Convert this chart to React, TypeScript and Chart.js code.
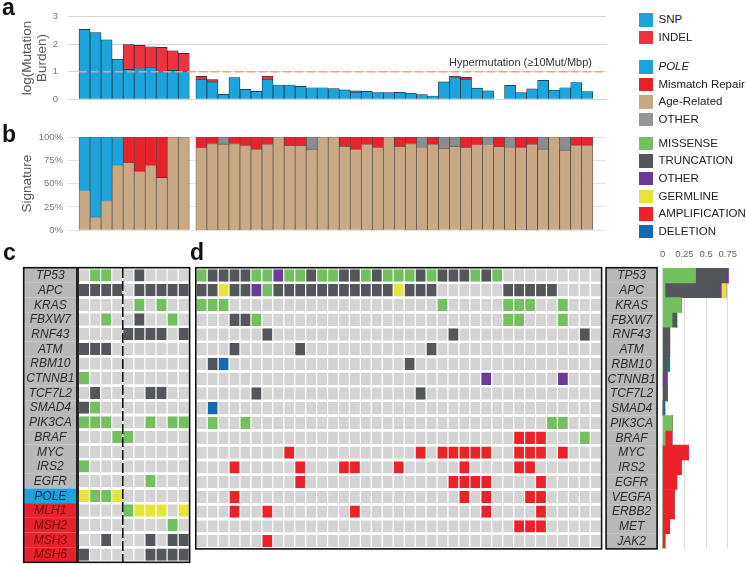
import React, { useEffect, useRef } from 'react';
import { Chart, registerables } from 'chart.js';
Chart.register(...registerables);

const FONT = '"Liberation Sans", Arial, Helvetica, sans-serif';
Chart.defaults.font.family = FONT;

// ---------------- data ----------------
const burdenG1Snp = [2.54, 2.42, 2.16, 1.46, 1.09, 1.12, 1.15, 1.0, 1.05, 1.02];
const burdenG1Indel = [0, 0, 0, 0, 0.9, 0.84, 0.76, 0.89, 0.71, 0.65];
const burdenG2Snp = [0.73, 0.63, 0.18, 0.79, 0.36, 0.29, 0.73, 0.52, 0.52, 0.47, 0.42, 0.42, 0.39, 0.34, 0.26, 0.29, 0.24, 0.24, 0.25, 0.22, 0.17, 0.12, 0.63, 0.78, 0.73, 0.41, 0.31, 0, 0.51, 0.24, 0.38, 0.69, 0.33, 0.42, 0.61, 0.28];
const burdenG2Indel = [0.1, 0.09, 0, 0, 0, 0, 0.11, 0, 0, 0, 0, 0, 0, 0, 0.05, 0, 0, 0, 0, 0, 0, 0, 0, 0.06, 0.07, 0, 0, 0, 0, 0, 0, 0, 0, 0, 0, 0];
const burdenTicks = [0, 1, 2, 3];
const hyperThreshold = 1;
const hyperLabel = 'Hypermutation (≥10Mut/Mbp)';

const sigG1Age = [42.4, 14.3, 31.6, 70, 72.5, 63.5, 69.5, 56.5, 100, 100];
const sigG1Pole = [57.6, 85.7, 68.4, 30, 0, 0, 0, 0, 0, 0];
const sigG1Mmr = [0, 0, 0, 0, 27.5, 36.5, 30.5, 43.5, 0, 0];
const sigG1Other = [0, 0, 0, 0, 0, 0, 0, 0, 0, 0];
const sigG2Age = [89, 92.7, 92.4, 92.7, 90.6, 87, 92, 100, 91, 91, 87, 100, 100, 90, 87, 92, 88.5, 100, 90, 92.7, 88.5, 92, 87.5, 90, 89, 91.7, 91.7, 89.6, 88.5, 88.5, 92.4, 87, 100, 86, 91.3, 91.3];
const sigG2Pole = [0, 0, 0, 0, 0, 0, 0, 0, 0, 0, 0, 0, 0, 0, 0, 0, 0, 0, 0, 0, 0, 0, 0, 0, 0, 0, 0, 0, 0, 0, 0, 0, 0, 0, 0, 0];
const sigG2Mmr = [11, 7.3, 0, 7.3, 9.4, 13, 8, 0, 9, 9, 0, 0, 0, 10, 13, 8, 11.5, 0, 10, 7.3, 0, 8, 0, 0, 11, 8.3, 0, 10.4, 0, 11.5, 7.6, 0, 0, 0, 8.7, 8.7];
const sigG2Other = [0, 0, 7.6, 0, 0, 0, 0, 0, 0, 0, 13, 0, 0, 0, 0, 0, 0, 0, 0, 0, 11.5, 0, 12.5, 10, 0, 0, 8.3, 0, 11.5, 0, 0, 13, 0, 14, 0, 0];
const sigTicks = [0, 25, 50, 75, 100];

const cGenes = ['TP53', 'APC', 'KRAS', 'FBXW7', 'RNF43', 'ATM', 'RBM10', 'CTNNB1', 'TCF7L2', 'SMAD4', 'PIK3CA', 'BRAF', 'MYC', 'IRS2', 'EGFR', 'POLE', 'MLH1', 'MSH2', 'MSH3', 'MSH6'];
const cPoleGenes = ['POLE'];
const cMmrGenes = ['MLH1', 'MSH2', 'MSH3', 'MSH6'];
const cRows = [
  '.MM..T....',
  'TTTT.TTTTT',
  '.....M.M..',
  '..M..T..M.',
  '....TTTT.T',
  'TTT.......',
  '..........',
  'M.........',
  '.T....TT..',
  'TM........',
  'MMM...M.MM',
  '...MM.....',
  '..........',
  'M.........',
  '......M...',
  'GMMG......',
  '....MGGG.G',
  '........M.',
  '..T...T.TT',
  'T.....TTTT',
];
const cDividerAfter = 4;

const dGenes = ['TP53', 'APC', 'KRAS', 'FBXW7', 'RNF43', 'ATM', 'RBM10', 'CTNNB1', 'TCF7L2', 'SMAD4', 'PIK3CA', 'BRAF', 'MYC', 'IRS2', 'EGFR', 'VEGFA', 'ERBB2', 'MET', 'JAK2'];
const dRows = [
  'MTTTTMMOMMTMMTTMTMMMTMTTTMTM.........',
  'TTGTTOMTTTTTTTTTTTGTTT......TTTTT....',
  'MMM...................M.....MMM..M...',
  '...TTM......................MM...M...',
  '......T................T...........T.',
  '...T.....T...........T...............',
  '.TD................T.................',
  '..........................O......O...',
  '.....T..............T................',
  '.D...................................',
  '.M..M...........................MM...',
  '.............................AAA...M.',
  '........A...........A.AAAAA..AAA.A...',
  '...A.....A...AA...A.....A....AA......',
  '.........A.............AAAA....A.....',
  '...A....................A.A...AA.....',
  '...A..A.......A...........A....A.....',
  '.............................AAA.....',
  '......A..............................',
];
const freqTicks = [0, 0.25, 0.5, 0.75];

// ---------------- styles ----------------
const C_SNP = '#1ca4dc';
const C_INDEL = '#ec3340';
const C_POLE = '#1ca4dc';
const C_MMR = '#e8222b';
const C_AGE = '#c9a985';
const C_SIG_OTHER = '#8c8c8c';
const CELL: Record<string, string> = {
  '.': '#d4d4d4',
  M: '#74bf5f',
  T: '#53565a',
  O: '#6a3c97',
  G: '#e4e43c',
  A: '#ec2229',
  D: '#1668b2',
};
const MUT_TYPES = [
  { code: 'M', label: 'MISSENSE' },
  { code: 'T', label: 'TRUNCATION' },
  { code: 'O', label: 'OTHER' },
  { code: 'G', label: 'GERMLINE' },
  { code: 'A', label: 'AMPLIFICATION' },
  { code: 'D', label: 'DELETION' },
];
const LABEL_BOX = '#b8b8b8';
const GROUP2_START = 10.6;

const legendGroups = [
  { top: 13.3, items: [{ label: 'SNP', color: C_SNP }, { label: 'INDEL', color: C_INDEL }] },
  {
    top: 60,
    items: [
      { label: 'POLE', color: C_POLE, italic: true },
      { label: 'Mismatch Repair', color: C_MMR },
      { label: 'Age-Related', color: C_AGE },
      { label: 'OTHER', color: '#959595' },
    ],
  },
  { top: 136.7, items: MUT_TYPES.map((m) => ({ label: m.label, color: CELL[m.code] })) },
];

// ---------------- helpers ----------------
function samplePoints(g1: number[], g2: number[]) {
  return [
    ...g1.map((v, i) => ({ x: i, y: v })),
    ...g2.map((v, i) => ({ x: GROUP2_START + i, y: v })),
  ];
}

function xSampleAxis(): any {
  return {
    type: 'linear',
    min: -1.5,
    max: 47.3,
    offset: false,
    display: false,
    grid: { offset: false },
    ticks: { stepSize: 10 },
  };
}

const baseOptions = {
  animation: false,
  responsive: true,
  maintainAspectRatio: false,
  events: [],
  plugins: { legend: { display: false }, tooltip: { enabled: false } },
};

const hyperPlugin = {
  id: 'hyper',
  afterDatasetsDraw(chart: any) {
    const { ctx, chartArea, scales } = chart;
    const yy = scales.y.getPixelForValue(hyperThreshold);
    ctx.save();
    ctx.strokeStyle = 'rgba(243,158,108,0.95)';
    ctx.lineWidth = 1.5;
    ctx.setLineDash([8, 4]);
    ctx.beginPath();
    ctx.moveTo(scales.x.getPixelForValue(-0.5), yy);
    ctx.lineTo(chartArea.right, yy);
    ctx.stroke();
    ctx.setLineDash([]);
    ctx.fillStyle = '#333';
    ctx.font = `11px ${FONT}`;
    ctx.textAlign = 'right';
    ctx.textBaseline = 'alphabetic';
    ctx.fillText(hyperLabel, chartArea.right - 14, yy - 6);
    ctx.restore();
  },
};

function burdenConfig(): any {
  const bar = { borderColor: '#1b2830', borderWidth: 0.7, barPercentage: 1, categoryPercentage: 1, grouped: false };
  return {
    type: 'bar',
    data: {
      datasets: [
        { label: 'SNP', data: samplePoints(burdenG1Snp, burdenG2Snp), backgroundColor: C_SNP, ...bar },
        { label: 'INDEL', data: samplePoints(burdenG1Indel, burdenG2Indel), backgroundColor: C_INDEL, ...bar },
      ],
    },
    options: {
      ...baseOptions,
      layout: { padding: { left: 0, right: 14, top: 16.7, bottom: 7.7 } },
      scales: {
        x: xSampleAxis(),
        y: {
          min: 0,
          max: 3,
          stacked: true,
          afterBuildTicks: (s: any) => {
            s.ticks = burdenTicks.map((v) => ({ value: v }));
          },
          afterFit: (s: any) => {
            s.width = 68;
          },
          ticks: { color: '#777', font: { size: 9.5 }, padding: 10 },
          grid: { color: '#d6d6d6', drawTicks: false },
          border: { display: false },
          title: {
            display: true,
            text: ['log(Mutation', 'Burden)'],
            color: '#555',
            font: { size: 13.5, lineHeight: 1.1 },
            padding: { top: 20, bottom: 0 },
          },
        },
      },
    },
    plugins: [hyperPlugin],
  };
}

function signatureConfig(): any {
  const bar = { borderColor: 'rgba(45,40,35,0.8)', borderWidth: 0.7, barPercentage: 1, categoryPercentage: 1, grouped: false };
  return {
    type: 'bar',
    data: {
      datasets: [
        { label: 'Age-Related', data: samplePoints(sigG1Age, sigG2Age), backgroundColor: C_AGE, ...bar },
        { label: 'POLE', data: samplePoints(sigG1Pole, sigG2Pole), backgroundColor: C_POLE, ...bar },
        { label: 'Mismatch Repair', data: samplePoints(sigG1Mmr, sigG2Mmr), backgroundColor: C_MMR, ...bar },
        { label: 'OTHER', data: samplePoints(sigG1Other, sigG2Other), backgroundColor: C_SIG_OTHER, ...bar },
      ],
    },
    options: {
      ...baseOptions,
      layout: { padding: { left: 0, right: 14, top: 17, bottom: 8 } },
      scales: {
        x: xSampleAxis(),
        y: {
          min: 0,
          max: 100,
          stacked: true,
          afterBuildTicks: (s: any) => {
            s.ticks = sigTicks.map((v) => ({ value: v }));
          },
          afterFit: (s: any) => {
            s.width = 68;
          },
          ticks: { color: '#777', font: { size: 9.5 }, padding: 5, callback: (v: any) => `${v}%` },
          grid: { color: '#e3e3e3', drawTicks: false },
          border: { display: false },
          title: {
            display: true,
            text: 'Signature',
            color: '#555',
            font: { size: 13.5, lineHeight: 1.1 },
            padding: { top: 20, bottom: 0 },
          },
        },
      },
    },
  };
}

function gridConfig(genes: string[], rows: string[], padding: any, plugin: any): any {
  const nCols = rows[0].length;
  const datasets = Array.from({ length: nCols }, (_, k) => ({
    label: `S${k + 1}`,
    data: rows.map(() => 1),
    backgroundColor: rows.map((r) => CELL[r[k]]),
    borderColor: '#ffffff',
    borderWidth: { left: 0.6, right: 0.6, top: 0, bottom: 0 },
    borderSkipped: false,
    barPercentage: 0.84,
    categoryPercentage: 1,
  }));
  return {
    type: 'bar',
    data: { labels: genes, datasets },
    options: {
      ...baseOptions,
      indexAxis: 'y',
      layout: { padding },
      scales: {
        x: { type: 'linear', min: 0, max: nCols, stacked: true, display: false },
        y: { type: 'category', stacked: true, display: false },
      },
    },
    plugins: [plugin],
  };
}

function drawLabelBox(chart: any, genes: string[], left: number, right: number, fills: string[], colors: string[]) {
  const { ctx, chartArea: a, scales } = chart;
  const pitch = (a.bottom - a.top) / genes.length;
  ctx.save();
  genes.forEach((g, i) => {
    const cy = scales.y.getPixelForValue(i);
    ctx.fillStyle = fills[i];
    ctx.fillRect(left, cy - pitch / 2, right - left, pitch);
  });
  ctx.font = `italic 12px ${FONT}`;
  ctx.textAlign = 'center';
  ctx.textBaseline = 'middle';
  genes.forEach((g, i) => {
    ctx.fillStyle = colors[i];
    ctx.fillText(g, (left + right) / 2, scales.y.getPixelForValue(i) + 0.5);
  });
  ctx.strokeStyle = '#111';
  ctx.lineWidth = 1.6;
  ctx.strokeRect(left, a.top - 0.4, right - left, a.bottom - a.top + 0.8);
  ctx.restore();
}

const panelCPlugin = {
  id: 'panelC',
  afterDatasetsDraw(chart: any) {
    const { ctx, chartArea: a, scales } = chart;
    const fills = cGenes.map((g) => (cPoleGenes.includes(g) ? C_POLE : cMmrGenes.includes(g) ? C_MMR : LABEL_BOX));
    const colors = cGenes.map((g) => (cPoleGenes.includes(g) ? '#0e2a52' : cMmrGenes.includes(g) ? '#6a0b0b' : '#2b2b2b'));
    drawLabelBox(chart, cGenes, a.left - 54.8, a.left - 1.6, fills, colors);
    ctx.save();
    ctx.strokeStyle = '#111';
    ctx.lineWidth = 1.6;
    ctx.strokeRect(a.left - 0.4, a.top - 0.4, a.right - a.left + 0.8, a.bottom - a.top + 0.8);
    const xx = scales.x.getPixelForValue(cDividerAfter);
    ctx.setLineDash([10, 3]);
    ctx.beginPath();
    ctx.moveTo(xx, a.top);
    ctx.lineTo(xx, a.bottom);
    ctx.stroke();
    ctx.restore();
  },
};

const panelDPlugin = {
  id: 'panelD',
  afterDatasetsDraw(chart: any) {
    const { ctx, chartArea: a } = chart;
    ctx.save();
    ctx.strokeStyle = '#111';
    ctx.lineWidth = 1.6;
    ctx.strokeRect(a.left - 0.4, a.top - 0.4, a.right - a.left + 0.8, a.bottom - a.top + 0.8);
    ctx.restore();
  },
};

const freqLabelPlugin = {
  id: 'freqLabels',
  afterDatasetsDraw(chart: any) {
    const a = chart.chartArea;
    drawLabelBox(chart, dGenes, a.left - 56.6, a.left - 5.6, dGenes.map(() => LABEL_BOX), dGenes.map(() => '#2b2b2b'));
  },
};

function freqConfig(): any {
  const n = dRows[0].length;
  const datasets = MUT_TYPES.map((m) => ({
    label: m.label,
    data: dRows.map((r) => r.split('').filter((c) => c === m.code).length / n),
    backgroundColor: CELL[m.code],
    borderWidth: 0,
    barPercentage: 1,
    categoryPercentage: 1,
  }));
  return {
    type: 'bar',
    data: { labels: dGenes, datasets },
    options: {
      ...baseOptions,
      indexAxis: 'y',
      layout: { padding: { left: 62.7, right: 9, top: 0, bottom: 16.5 } },
      scales: {
        x: {
          type: 'linear',
          position: 'top',
          min: 0,
          max: 0.84,
          stacked: true,
          afterBuildTicks: (s: any) => {
            s.ticks = freqTicks.map((v) => ({ value: v }));
          },
          afterFit: (s: any) => {
            s.height = 23.1;
          },
          ticks: { color: '#666', font: { size: 9.5 }, padding: 8, maxRotation: 0, callback: (v: any) => String(v) },
          grid: { color: '#dcdcdc', drawTicks: false },
          border: { display: false },
        },
        y: { type: 'category', stacked: true, display: false },
      },
    },
    plugins: [freqLabelPlugin],
  };
}

// ---------------- components ----------------
function ChartCanvas({ left, top, width, height, config }: { left: number; top: number; width: number; height: number; config: () => any }) {
  const ref = useRef<HTMLCanvasElement | null>(null);
  useEffect(() => {
    if (!ref.current) return;
    const chart = new Chart(ref.current, config());
    return () => chart.destroy();
  }, []);
  return (
    <div style={{ position: 'absolute', left, top, width, height }}>
      <canvas ref={ref} />
    </div>
  );
}

function PanelLetter({ text, left, top }: { text: string; left: number; top: number }) {
  return <div style={{ position: 'absolute', left, top, font: `bold 23px ${FONT}`, lineHeight: '23px', color: '#111' }}>{text}</div>;
}

function Legend() {
  const step = 17.6;
  return (
    <>
      {legendGroups.map((g, gi) =>
        g.items.map((it: any, i: number) => (
          <div key={`${gi}-${i}`} style={{ position: 'absolute', left: 638.5, top: g.top + i * step, height: 13.5, display: 'flex', alignItems: 'center' }}>
            <div style={{ width: 14, height: 13.5, background: it.color }} />
            <div style={{ marginLeft: 6, font: `${it.italic ? 'italic ' : ''}11.5px ${FONT}`, color: '#222', whiteSpace: 'nowrap', lineHeight: '13.5px' }}>{it.label}</div>
          </div>
        ))
      )}
    </>
  );
}

export default function App() {
  return (
    <div style={{ position: 'fixed', left: 0, top: 0, width: 746, height: 565, background: '#fff', overflow: 'hidden', fontFamily: FONT }}>
      <ChartCanvas left={0} top={0} width={620} height={115} config={burdenConfig} />
      <ChartCanvas left={0} top={120} width={620} height={121} config={signatureConfig} />
      <ChartCanvas left={20} top={265} width={172} height={300} config={() => gridConfig(cGenes, cRows, { left: 58.5, right: 2.8, top: 3.1, bottom: 3.1 }, panelCPlugin)} />
      <ChartCanvas left={190} top={265} width={415} height={300} config={() => gridConfig(dGenes, dRows, { left: 6.2, right: 3.8, top: 3.1, bottom: 16.5 }, panelDPlugin)} />
      <ChartCanvas left={600} top={245} width={146} height={320} config={freqConfig} />
      <Legend />
      <PanelLetter text="a" left={2} top={-4} />
      <PanelLetter text="b" left={2} top={123} />
      <PanelLetter text="c" left={3} top={241} />
      <PanelLetter text="d" left={190} top={241} />
    </div>
  );
}
